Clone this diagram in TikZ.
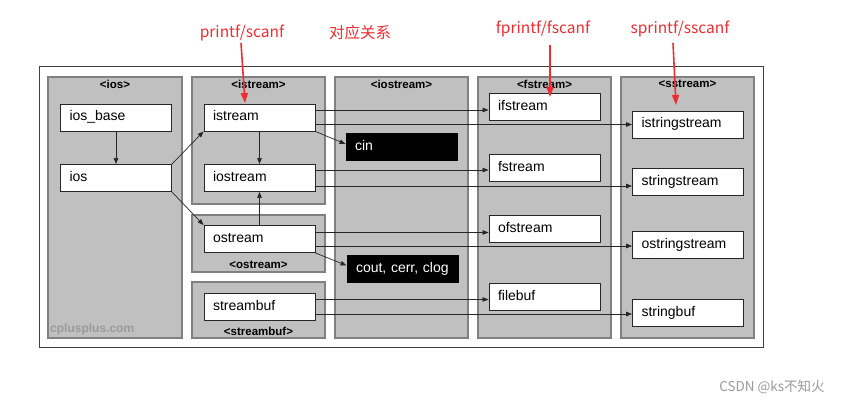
\documentclass[tikz,border=0pt]{standalone}
\usepackage{fontspec}
\setmainfont{Liberation Sans}
\newfontfamily\cjk{Noto Sans CJK SC}
\usetikzlibrary{arrows.meta,calc}
\definecolor{panelfill}{HTML}{C0C0C0}
\definecolor{panelline}{HTML}{808080}
\definecolor{annred}{RGB}{238,45,50}
\definecolor{wm}{HTML}{9A9A9A}
\begin{document}
\begin{tikzpicture}[x=1pt,y=-1pt,
 panel/.style={fill=panelfill,draw=panelline,line width=1.6pt},
 cls/.style={draw=black!85,fill=white,line width=0.9pt,text width=93pt,inner xsep=9pt,inner ysep=0pt,
   minimum height=27pt,align=left,text height=10pt,text depth=3pt,font=\fontsize{14}{14}\selectfont},
 obj/.style={cls,fill=black,draw=black,text=white},
 hdr/.style={font=\bfseries\fontsize{11.5}{11.5}\selectfont,inner sep=0pt},
 link/.style={draw=black!85,line width=0.7pt,-{Triangle[length=6pt,width=4.5pt]}},
 ann/.style={text=annred,font=\cjk\fontsize{15.5}{15.5}\selectfont,inner sep=0pt},
 annarrow/.style={draw=annred,line width=1.6pt,-{Triangle[length=10pt,width=7pt]}}
]
\useasboundingbox (0,0) rectangle (853,406);
\fill[white] (0,0) rectangle (853,406);

% outer frame
\draw[black!75,line width=1pt] (39,67) rectangle (763,347);

% panels
\draw[panel] (48,77) rectangle (182,338);
\draw[panel] (192,77) rectangle (325,204);
\draw[panel] (192,215) rectangle (325,272);
\draw[panel] (192,282) rectangle (325,338);
\draw[panel] (335,77) rectangle (468,338);
\draw[panel] (478,77) rectangle (611,338);
\draw[panel] (621,77) rectangle (754,338);

% headers
\node[hdr] (hios) at (115,84) {<ios>};
\node[hdr] (histream) at (258.5,84) {<istream>};
\node[hdr] (hostream) at (258.5,265) {<ostream>};
\node[hdr] (hstreambuf) at (258.5,331) {<streambuf>};
\node[hdr] (hiostream) at (401.5,84) {<iostream>};
\node[hdr] (hfstream) at (544.5,84) {<fstream>};
\node[hdr] (hsstream) at (687.5,84) {<sstream>};

\node[anchor=west,text=wm,font=\bfseries\fontsize{12}{12}\selectfont,inner sep=0pt] (cpp) at (50,329) {cplusplus.com};

% class boxes
\node[cls] (iosbase) at (116,117.5) {ios\_base};
\node[cls] (ios) at (116,178) {ios};
\node[cls] (istream) at (259.5,117.5) {istream};
\node[cls] (iostream) at (259.5,178) {iostream};
\node[cls] (ostream) at (259.5,239) {ostream};
\node[cls] (streambuf) at (259.5,306.5) {streambuf};
\node[obj] (cin) at (401.5,147) {cin};
\node[obj] (cout) at (402.5,268.5) {cout, cerr, clog};
\node[cls] (ifstream) at (544.5,107) {ifstream};
\node[cls] (fstream) at (544.5,168) {fstream};
\node[cls] (ofstream) at (544.5,228.5) {ofstream};
\node[cls] (filebuf) at (544.5,296.5) {filebuf};
\node[cls] (istringstream) at (688,124.5) {istringstream};
\node[cls] (stringstream) at (688,182) {stringstream};
\node[cls] (ostringstream) at (688,244.5) {ostringstream};
\node[cls] (stringbuf) at (688,312.5) {stringbuf};

% connectors
\draw[link] (iosbase) -- (ios);
\draw[link] (ios.north east) -- (istream.south west);
\draw[link] (ios.south east) -- (ostream.north west);
\draw[link] (istream) -- (iostream);
\draw[link] (ostream) -- (iostream);
\draw[link] (istream.south east) -- ($(cin.west)+(0,-3)$);
\draw[link] (ostream.south east) -- ($(cout.west)+(0,-3)$);
\draw[link] ($(istream.east |- ifstream.west)+(0,3)$) -- ($(ifstream.west)+(0,3)$);
\draw[link] (istream.east |- istringstream.west) -- (istringstream.west);
\draw[link] ($(iostream.east |- fstream.west)+(0,2)$) -- ($(fstream.west)+(0,2)$);
\draw[link] ($(iostream.east |- stringstream.west)+(0,4)$) -- ($(stringstream.west)+(0,4)$);
\draw[link] ($(ostream.east |- ofstream.west)+(0,4)$) -- ($(ofstream.west)+(0,4)$);
\draw[link] ($(ostream.east |- ostringstream.west)+(0,1.5)$) -- ($(ostringstream.west)+(0,1.5)$);
\draw[link] ($(streambuf.east |- filebuf.west)+(0,3)$) -- ($(filebuf.west)+(0,3)$);
\draw[link] ($(streambuf.east |- stringbuf.west)+(0,1.5)$) -- ($(stringbuf.west)+(0,1.5)$);

% red annotations
\node[ann] (a1) at (242,33) {printf/scanf};
\node[ann] (a0) at (360,33) {对应关系};
\node[ann] (a2) at (543,29) {fprintf/fscanf};
\node[ann] (a3) at (680,29) {sprintf/sscanf};
\coordinate (a1s) at (241,43);
\coordinate (a1t) at (245,103);
\coordinate (a2s) at (550,45);
\coordinate (a2t) at (550,97);
\coordinate (a3s) at (673,43);
\coordinate (a3t) at (676,105);
\draw[annarrow] (a1s) -- (a1t);
\draw[annarrow] (a2s) -- (a2t);
\draw[annarrow] (a3s) -- (a3t);

\node[text=wm,font=\cjk\fontsize{13.5}{13.5}\selectfont,inner sep=0pt] (csdn) at (772,387) {CSDN @ks不知火};
\end{tikzpicture}
\end{document}
